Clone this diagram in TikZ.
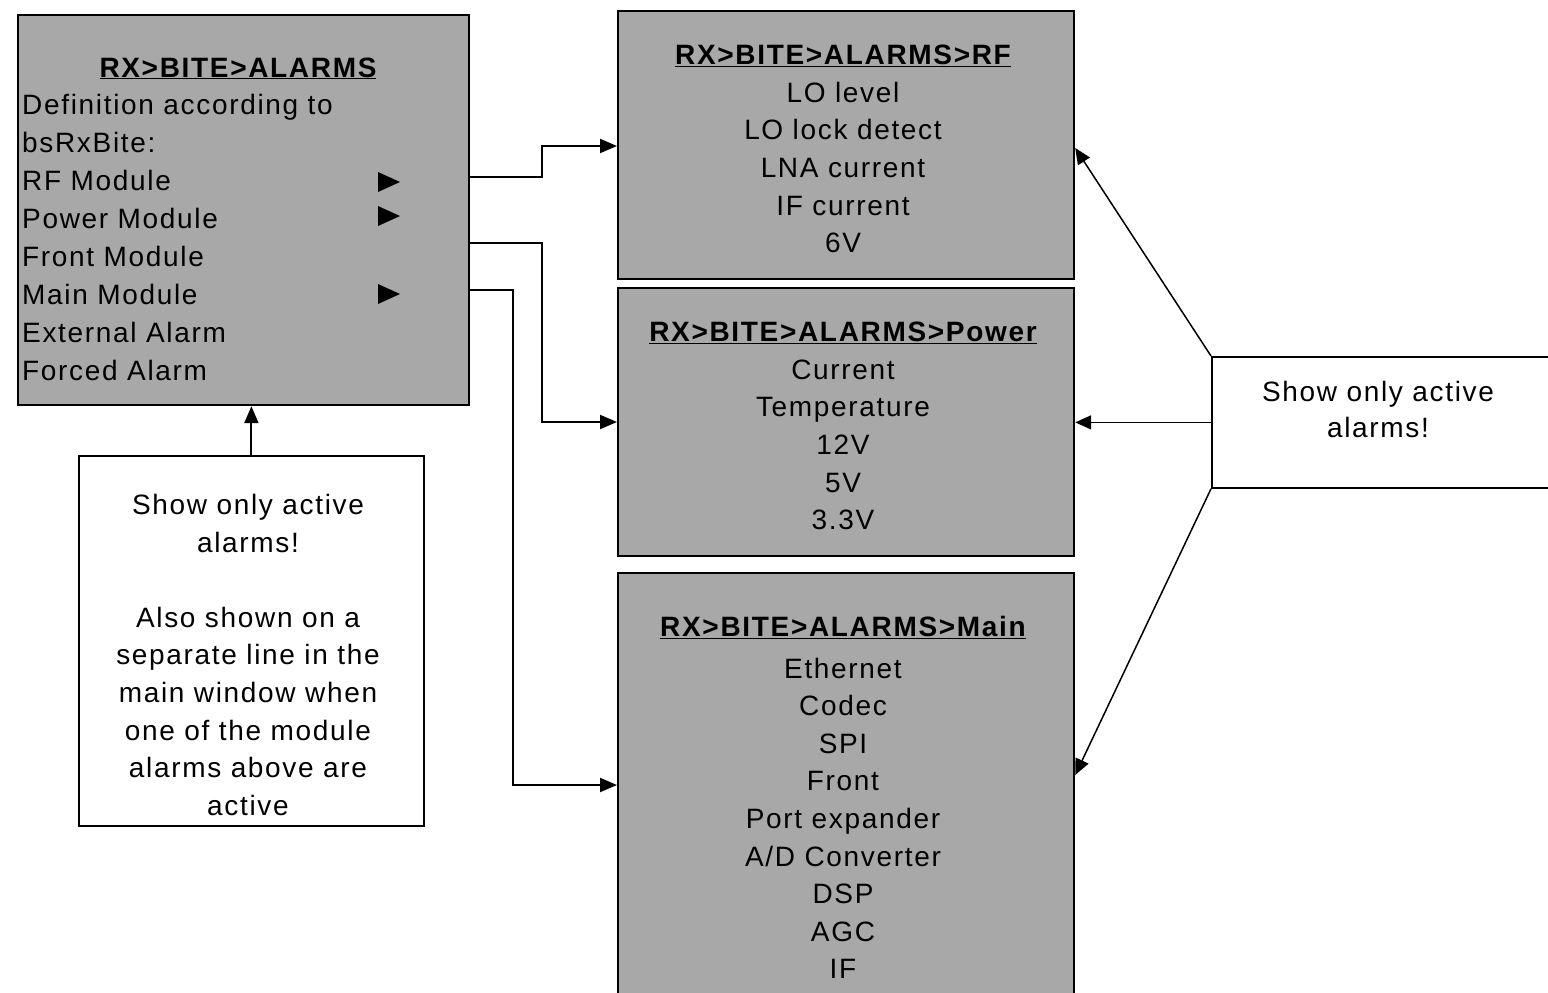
\documentclass[tikz,border=0pt]{standalone}
\usepackage{fontspec}
\setmainfont{Liberation Sans}[LetterSpace=6]
\usetikzlibrary{arrows.meta}
\definecolor{boxgray}{RGB}{168,168,168}
\begin{document}
\begin{tikzpicture}[x=1pt,y=-1pt,
  graybox/.style={draw=black, line width=2.2pt, fill=boxgray, anchor=north west, inner sep=0pt},
  notebox/.style={draw=black, line width=1.8pt, fill=white, anchor=north west, inner sep=0pt},
  body/.style={inner sep=0pt, font=\fontsize{28}{37.6}\selectfont, align=center, anchor=north},
  link/.style={line width=2pt, -{Triangle[length=17pt,width=14pt]}},
  ptr/.style={line width=1.5pt, -{Triangle[length=16pt,width=14pt]}}]
\useasboundingbox (0,0) rectangle (1548,993);
\clip (0,0) rectangle (1548,993);

% boxes
\node[graybox, minimum width=451pt, minimum height=390pt] (menu) at (17,14) {};
\node[graybox, minimum width=456pt, minimum height=268pt] (rf) at (617,10) {};
\node[graybox, minimum width=456pt, minimum height=268pt] (power) at (617,287) {};
\node[graybox, minimum width=456pt, minimum height=440pt] (mainm) at (617,572) {};
\node[notebox, minimum width=345pt, minimum height=370pt] (leftnote) at (78,455) {};
\node[notebox, minimum width=360pt, minimum height=131pt] (rightnote) at (1211,356) {};

% menu texts
\node[body, anchor=base] (menutitle) at (238,77) {\textbf{\underline{RX>BITE>ALARMS}}};
\node[body, align=left, anchor=north west, font=\fontsize{28}{38}\selectfont] (menutext) at (22,94)
  {Definition according to\\bsRxBite:\\RF Module\\Power Module\\Front Module\\Main Module\\External Alarm\\Forced Alarm};
\fill (378,172) -- (400,182) -- (378,192) -- cycle;
\fill (378,206) -- (400,216) -- (378,226) -- cycle;
\fill (378,284) -- (400,294) -- (378,304) -- cycle;

% sub menus
\node[body] (rftext) at (843,45)
  {\textbf{\underline{RX>BITE>ALARMS>RF}}\\LO level\\LO lock detect\\LNA current\\IF current\\6V};
\node[body] (powertext) at (843,322)
  {\textbf{\underline{RX>BITE>ALARMS>Power}}\\Current\\Temperature\\12V\\5V\\3.3V};
\node[body] (maintext) at (843,616)
  {\textbf{\underline{RX>BITE>ALARMS>Main}}\\[4pt]Ethernet\\Codec\\SPI\\Front\\Port expander\\A/D Converter\\DSP\\AGC\\IF};

% notes
\node[body] (leftnotetext) at (248,494)
  {Show only active\\alarms!\\[37.6pt]Also shown on a\\separate line in the\\main window when\\one of the module\\alarms above are\\active};
\node[body, font=\fontsize{28}{36}\selectfont] (rightnotetext) at (1378,381)
  {Show only active\\alarms!};

% connectors
\draw[link] (menu.east |- 0,177) -- (542,177) -- (542,146) -- (rf.west |- 0,146);
\draw[link] (menu.east |- 0,243) -- (542,243) -- (542,422) -- (power.west |- 0,422);
\draw[link] (menu.east |- 0,290) -- (513,290) -- (513,785) -- (mainm.west |- 0,785);
\draw[link] (leftnote.north) -- (leftnote.north |- menu.south);
\draw[ptr] (rightnote.north west) -- (rf.east |- 0,148);
\draw[ptr] (rightnote.west) -- (power.east |- rightnote.west);
\draw[ptr] (rightnote.south west) -- (mainm.east |- 0,775);
\end{tikzpicture}
\end{document}
